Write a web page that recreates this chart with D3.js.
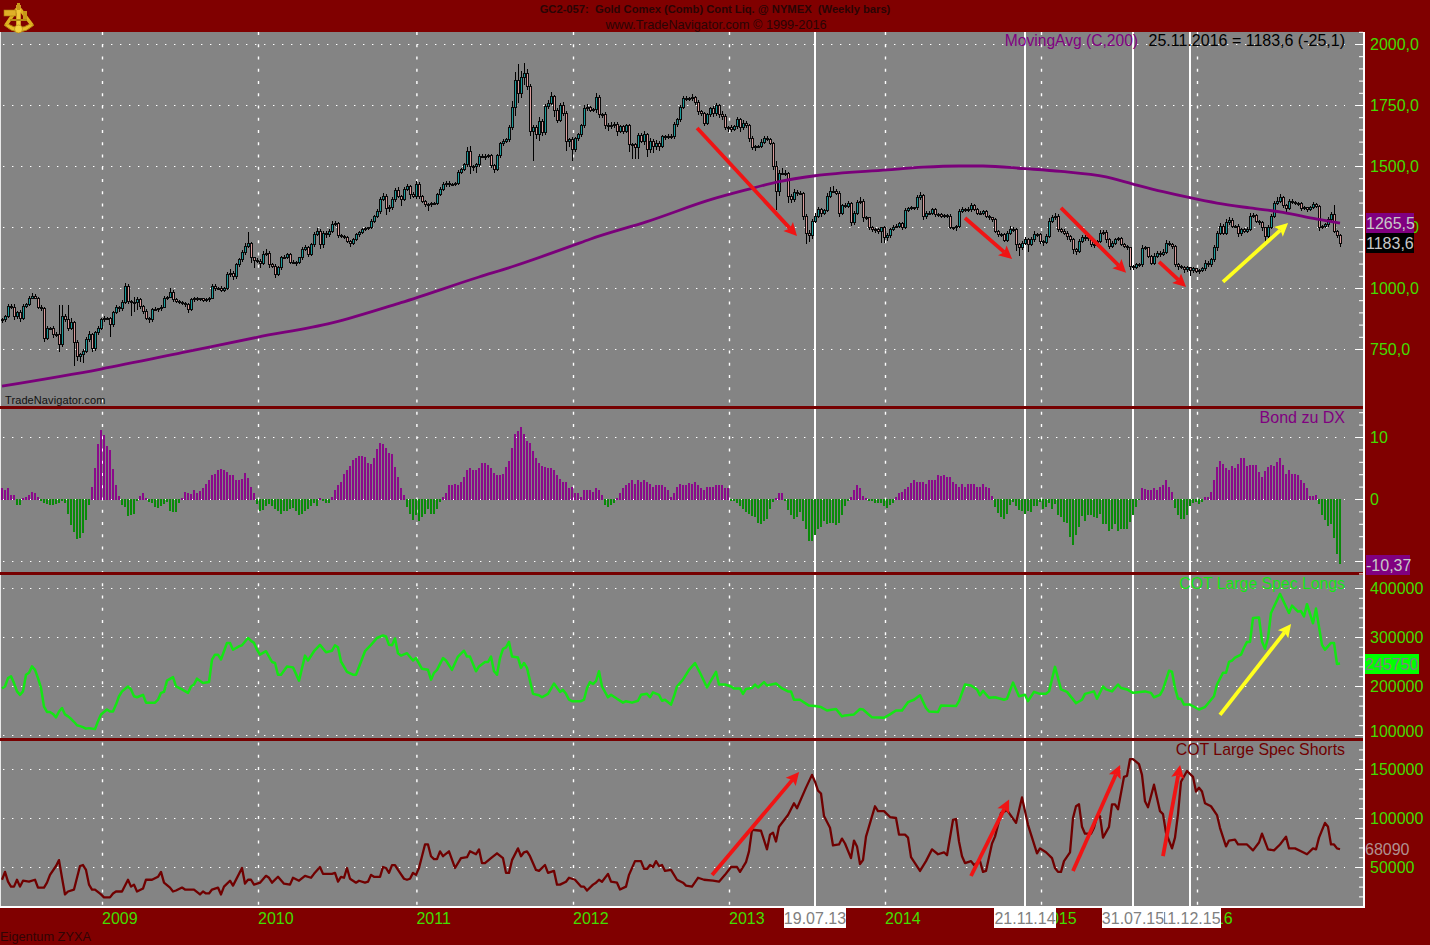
<!DOCTYPE html>
<html><head><meta charset="utf-8">
<style>html,body{margin:0;padding:0;background:#800000;overflow:hidden}text{font-family:"Liberation Sans",Arial,sans-serif}</style>
<script src="https://cdn.jsdelivr.net/npm/d3@7"></script></head><body><svg id="c" width="1430" height="945"></svg>
<script>
// ---------- DATA ----------
const closes=[870,884,925,922,885,898,873,925,932,959,
966,959,922,914,795,836,836,809,809,768,
884,870,836,857,775,720,727,740,788,809,
754,816,836,870,877,877,850,898,922,914,
941,1007,945,941,941,952,925,904,877,870,
911,911,914,922,959,963,982,952,945,941,
936,932,911,952,955,952,955,949,952,959,
1007,996,1000,990,1000,1055,1061,1048,1096,1116,
1146,1171,1182,1123,1113,1109,1102,1137,1143,1096,
1089,1055,1082,1123,1127,1137,1105,1105,1105,1123,
1157,1164,1137,1178,1219,1232,1178,1225,1219,1232,
1260,1264,1214,1212,1209,1191,1184,1198,1219,1228,
1239,1242,1246,1273,1295,1315,1363,1377,1325,1329,
1363,1398,1377,1362,1404,1415,1384,1377,1425,1377,
1355,1342,1342,1346,1348,1383,1403,1423,1430,1423,
1423,1430,1474,1485,1505,1560,1496,1496,1505,1537,
1540,1540,1542,1501,1485,1542,1591,1601,1608,1656,
1738,1851,1799,1861,1878,1824,1642,1656,1628,1683,
1638,1744,1758,1785,1728,1687,1747,1717,1601,1608,
1567,1611,1628,1665,1734,1738,1728,1731,1779,1710,
1710,1665,1660,1665,1669,1642,1660,1642,1665,1587,
1587,1574,1624,1601,1628,1567,1601,1578,1594,1581,
1619,1615,1622,1619,1669,1690,1738,1775,1775,1775,
1779,1761,1724,1717,1676,1710,1734,1714,1747,1710,
1704,1658,1658,1649,1660,1690,1656,1673,1665,1611,
1574,1581,1581,1597,1611,1608,1594,1499,1396,1471,
1471,1469,1376,1362,1392,1387,1389,1294,1225,1214,
1273,1294,1321,1307,1318,1376,1396,1396,1389,1307,
1337,1335,1348,1269,1307,1351,1355,1287,1287,1249,
1239,1239,1232,1246,1205,1214,1239,1250,1253,1264,
1246,1318,1324,1328,1328,1369,1378,1294,1307,1307,
1321,1301,1301,1294,1296,1294,1246,1246,1253,1314,
1321,1318,1321,1337,1321,1307,1307,1314,1294,1287,
1280,1232,1219,1219,1195,1225,1239,1239,1178,1164,
1184,1198,1178,1198,1219,1219,1191,1187,1212,1273,
1287,1294,1239,1232,1225,1212,1198,1157,1150,1191,
1209,1205,1201,1178,1174,1191,1225,1228,1198,1171,
1184,1198,1201,1178,1171,1164,1089,1085,1096,1096,
1160,1164,1130,1102,1130,1143,1137,1146,1184,1178,
1171,1096,1089,1086,1075,1082,1072,1078,1068,1072,
1078,1102,1096,1116,1164,1225,1253,1225,1267,1277,
1253,1253,1225,1239,1232,1239,1294,1296,1273,1267,
1246,1212,1250,1294,1348,1355,1369,1337,1324,1355,
1351,1346,1346,1324,1328,1321,1328,1342,1335,1249,
1253,1260,1280,1301,1232,1214,1183.6];
const wickUp=[8,6,10,8,12,6,10,8,6,10,
14,10,6,8,8,10,6,8,10,123,
46,10,62,20,8,10,6,10,12,14,
6,8,10,8,10,6,6,8,8,6,
10,12,8,6,22,10,8,6,8,6,
8,10,6,8,8,6,16,8,6,6,
6,8,6,6,10,8,6,6,6,6,
8,8,6,8,6,10,16,8,8,6,
10,12,46,8,6,8,8,14,18,8,
8,8,10,8,8,6,6,8,6,6,
10,12,8,6,10,14,8,8,10,10,
14,10,6,8,6,6,6,8,6,6,
6,8,6,10,6,8,12,14,8,10,
12,10,16,6,10,12,6,8,14,10,
6,6,8,6,6,8,10,12,8,10,
6,6,8,8,6,18,22,8,8,12,
10,8,6,6,6,6,8,8,8,12,
28,35,68,30,44,20,12,14,10,16,
8,12,14,18,6,10,10,14,10,6,
10,8,8,8,14,18,8,8,20,12,
8,12,10,14,10,12,8,8,8,6,
8,6,12,12,14,6,14,10,12,8,
10,8,8,8,10,8,10,12,10,8,
16,8,10,6,6,6,8,10,12,8,
14,10,6,10,8,12,8,14,10,8,
10,6,6,12,10,14,6,6,20,14,
22,14,6,10,14,8,8,6,8,14,
10,14,12,8,6,14,18,22,10,8,
8,10,10,6,10,8,20,8,8,6,
6,6,8,6,8,10,6,8,8,8,
6,10,6,8,6,14,16,8,8,10,
8,8,6,8,6,6,8,6,6,8,
10,8,12,12,8,8,10,6,6,6,
6,6,6,6,6,8,14,10,8,6,
8,10,8,10,14,8,6,6,8,12,
14,12,10,6,8,8,6,6,6,8,
8,8,8,14,6,6,14,8,8,6,
10,8,8,6,6,6,6,6,6,6,
16,10,6,6,14,8,8,12,14,8,
8,6,6,6,6,8,6,8,6,6,
8,14,8,8,12,8,14,8,16,12,
10,6,8,6,6,10,14,12,8,6,
6,6,8,8,10,16,18,8,8,10,
8,6,8,6,8,6,8,10,6,4,
6,6,10,10,41,6,6];
const wickDn=[14,8,6,8,16,12,14,6,8,6,
6,6,10,8,18,8,6,14,10,32,
10,8,12,8,96,20,25,34,8,8,
16,14,8,10,8,6,51,8,6,12,
8,6,12,57,40,30,12,10,8,14,
8,6,8,8,6,8,6,10,8,8,
6,8,14,6,8,6,6,8,6,8,
6,8,6,8,6,8,8,14,10,8,
8,10,8,20,30,8,18,8,6,16,
8,12,6,8,6,8,8,6,14,6,
8,6,8,6,8,6,18,14,16,8,
8,6,10,8,8,6,16,8,6,8,
6,6,6,6,8,8,10,8,24,14,
8,10,10,24,6,8,18,8,12,14,
8,10,26,8,6,8,6,6,8,8,
6,6,6,8,6,8,28,18,26,8,
6,14,8,8,12,6,8,8,6,10,
10,32,40,20,30,14,20,120,16,26,
14,10,10,8,26,10,8,14,40,22,
45,8,8,8,10,8,8,6,14,12,
12,12,16,8,8,18,8,12,6,30,
58,45,45,8,14,30,14,24,14,18,
8,10,6,8,8,8,8,6,8,10,
8,12,14,12,14,8,8,14,8,12,
14,12,20,8,6,10,18,8,8,12,
10,14,8,6,6,6,8,16,75,18,
8,8,26,14,8,8,6,14,45,25,
12,8,8,14,8,8,8,8,8,14,
6,8,8,14,12,8,8,18,10,10,
8,14,10,47,20,14,8,6,6,8,
10,6,6,6,10,8,8,14,10,8,
8,10,8,6,8,8,6,8,14,6,
6,8,6,8,6,8,8,6,6,8,
10,8,10,8,8,6,6,8,26,34,
8,8,30,6,8,8,10,14,8,6,
6,8,8,8,6,14,8,16,14,6,
6,14,8,10,12,6,6,8,14,12,
6,8,6,6,8,8,14,10,6,8,
8,6,8,8,8,6,10,6,8,6,
10,10,14,10,14,10,22,12,8,10,
8,8,8,10,8,14,8,8,6,8,
8,8,14,10,8,8,6,8,8,10,
14,26,8,8,8,8,8,10,12,6,
6,6,8,8,6,8,6,6,8,14,
8,6,8,8,8,8,14];
const maWeek=[0,33,60,85,110,133,159,170,190,196,215,237,248,259,271,295,307,319,327,341,353,368,377,387,396,405,416,427,438,446];
const maValue=[598,668,735,798,857,940,1045,1087,1173,1200,1272,1365,1402,1436,1460,1484,1495,1500,1500,1489,1478,1455,1426,1395,1370,1348,1328,1310,1283,1265.5];
const bond=[1.8,1.5,1.7,.7,.7,-.9,-.9,.1,.3,.7,
1.1,.9,.4,-.3,-.6,-.75,-.85,-.85,-.75,-.5,
-.3,-.6,-2.4,-4.1,-5.2,-6.3,-6.2,-5.4,-3.3,-.9,
1.9,5,8.8,11.2,10.4,8.6,7.9,4.9,2.2,.5,
-.9,-1.2,-2.7,-2.5,-2.4,-.3,.5,.9,.2,-.4,
-.6,-1.2,-1.3,-1.1,-.75,-.4,-1.8,-2,-2,-.6,
.2,1.2,.9,.75,1.5,.9,1.3,1.8,2.5,3,
3.9,4.1,4.6,4.9,4.6,4.4,3.9,3.8,3.1,3.1,
3.2,4.2,3.4,1.9,1,-.75,-1.8,-1.7,-1.1,-.75,
-1.1,-1.5,-1.8,-2.4,-1.8,-1.8,-1.6,-1.3,-1.8,-2.5,
-2.4,-1.8,-1.6,-1.1,-.5,-1,.1,-.3,-.5,-.5,
.3,1.4,2.3,2.8,4.1,4.6,5.4,6.3,6.6,7,
6.9,6.8,5.8,5.7,6.6,8,9,8.8,8.2,7.5,
7.2,5.2,3.5,1.8,.7,-1.2,-2.4,-3.3,-2.5,-3.4,
-2.9,-2.4,-1.5,-2.3,-2.4,-1.6,-.4,.3,1,2.3,
2.3,2.5,2.3,2.8,3.6,4.7,5,4.7,4.6,5,
5.8,5.8,5.5,5,4.2,3.8,3.8,4.1,5.1,6.2,
8.2,10.5,11,11.6,10.5,9.4,9,7.8,6.6,5.8,
5.4,5.1,5,5,4.6,3.8,3.2,2.7,2.7,1.8,
1.9,.9,.9,.4,1.4,1.5,1.5,1.1,1.8,1.5,
.7,-.9,-1.2,-.9,-.5,.1,.9,1.8,2.3,2.6,
3,2.5,3.1,2.8,3.1,2.7,2.5,2,2.2,2.2,
2.2,2,1.5,.3,.9,2,2.5,2.2,2.2,2.6,
2.5,2.8,2.3,1.8,1.4,1.9,2,2,2.3,2.3,
2.2,1.8,1.7,-.2,-.2,-.5,-1.1,-1.5,-2,-2.4,
-2.7,-2.9,-3.8,-4,-3.4,-3.1,-1.5,-.4,.2,.9,
1,-.3,-1.7,-2.5,-3.2,-2.9,-2,-3.4,-4.8,-6.7,
-6.7,-5.8,-4.8,-4.4,-3.4,-4,-3.8,-3.8,-4.1,-3.8,
-2.5,-1.1,-.2,.3,1.4,2.3,1.8,.5,.2,-.2,
-.2,-.6,-.6,-.5,-1.1,-1.4,-.9,-.5,.4,.9,
1.2,1.6,1.9,2.6,3.1,2.8,2.8,2.8,2.4,3.1,
3,3.1,3.8,3.7,3.8,3.5,3.5,2.8,2.5,1.9,
2.5,1.9,2.4,2.5,2.4,1.9,2,2.4,2,1.7,
.5,-1.2,-2.2,-2.8,-3.1,-2.4,-.9,-.4,-1.1,-1.7,
-1.9,-2.3,-1.8,-2,-1,-1,-.4,-1.5,-1.2,-.6,
-1.5,-.75,-2.5,-2.9,-3.6,-3.8,-6,-7.4,-5.8,-4.4,
-2.7,-3.4,-2.5,-2.5,-2.8,-3,-2.3,-3.9,-4,-5.1,
-4.8,-4,-5,-4.8,-4.8,-4.7,-3.6,-2.5,-1.2,-.1,
1.8,1.6,1.4,1.5,1.8,1.4,2,2.3,3.1,2,
1.1,-1.3,-2.5,-3.1,-3.2,-2.5,-1.1,-.6,-.4,-.75,
-.4,.3,.4,1.2,3.1,5.2,6.2,5.7,5,4.7,
5.4,5,5.7,6.6,6.6,5.4,5.5,5.5,5.5,4.4,
3.5,4.5,5.1,5.5,5.4,6,6.6,5.5,4.1,4.7,
4.1,4.1,3.9,3.1,2.6,1.7,.5,.5,.7,-.75,
-2.5,-3.3,-4.2,-4,-6.2,-8.8,-10.37];
const longsWeek=[0,1,2,3,4,5,6,7,8,9,10,11,12,13,14,15,16,17,18,19,20,21,22,23,24,25,26,27,28,29,31,32,33,35,36,37,38,39,40,42,43,44,45,47,48,51,52,53,54,55,57,58,60,62,63,64,65,67,69,70,71,72,73,75,76,77,79,80,82,83,84,85,86,88,90,91,92,93,95,97,99,101,102,104,106,108,110,111,112,113,115,117,118,121,123,125,127,128,129,130,131,132,133,135,137,138,140,142,143,144,145,147,148,150,152,154,155,156,158,159,161,162,163,164,165,166,167,168,169,170,172,173,174,175,177,179,180,182,184,186,187,188,189,190,193,194,195,196,197,198,199,200,202,203,205,207,208,210,212,213,215,216,217,219,220,221,223,224,225,227,229,231,233,235,238,239,241,243,244,246,247,248,250,251,252,254,255,258,260,262,263,264,266,269,271,273,275,278,280,281,284,286,287,290,294,296,298,300,302,304,306,308,309,312,313,318,319,321,323,325,326,327,329,331,334,335,337,339,341,342,344,346,348,349,351,353,355,358,360,361,364,365,367,368,370,372,373,375,377,381,383,384,386,387,389,390,391,392,393,394,396,399,401,404,405,407,408,409,410,411,413,414,415,416,417,419,420,421,422,423,426,429,430,432,433,434,435,437,438,440,441,443,444,445,446];
const longsValue=[195,199,216,220,206,189,182,189,223,227,240,233,216,196,158,147,147,143,136,148,155,142,138,133,127,120,118,116,113,114,112,128,142,152,148,148,162,179,189,199,193,179,177,182,166,166,172,186,188,211,218,199,193,186,199,203,215,206,208,254,264,264,254,288,288,274,281,283,298,292,288,274,264,271,249,247,223,223,240,238,211,262,252,271,284,269,272,283,279,250,229,223,223,271,284,298,303,301,284,283,297,267,262,267,252,257,235,233,213,227,233,257,252,233,260,272,260,260,230,240,249,249,260,230,223,257,276,279,290,260,258,237,247,237,184,181,177,184,205,188,192,184,172,169,169,172,196,208,204,210,230,199,177,182,174,166,169,166,170,182,184,177,187,182,170,172,162,179,199,213,233,247,223,197,229,203,203,199,195,195,184,194,196,203,197,208,201,205,195,189,189,172,172,160,159,157,150,153,138,140,142,153,152,136,135,142,150,150,167,172,181,155,148,147,160,159,169,203,201,193,181,190,176,177,172,174,207,179,182,169,188,184,184,189,239,193,188,165,172,184,189,174,199,193,189,203,196,193,186,189,186,177,182,193,231,229,196,174,174,162,162,152,157,179,203,227,227,249,252,258,264,278,290,290,339,340,291,276,298,349,388,349,364,352,353,342,367,328,358,284,274,288,288,245,245.75].map(k=>k*1000);
const shortsWeek=[0,1,2,3,4,5,6,7,9,11,12,14,15,16,18,19,20,21,22,24,26,27,28,29,30,31,33,34,36,37,38,40,42,43,44,45,47,48,50,52,53,54,56,57,58,60,61,64,66,67,68,69,70,72,73,74,76,77,80,81,82,83,84,86,88,89,90,92,94,96,97,99,101,103,104,106,107,110,111,112,113,114,115,116,118,119,121,122,123,124,126,127,128,129,130,131,132,134,135,136,137,138,139,140,141,142,143,144,145,146,147,149,151,153,155,156,158,159,160,161,163,165,167,168,169,170,172,173,174,175,176,178,179,181,182,184,185,186,188,189,191,193,194,195,197,198,199,200,202,203,205,206,208,209,211,213,214,215,216,217,218,219,220,221,223,225,227,228,230,232,234,237,239,241,243,245,246,248,249,250,253,255,256,257,258,259,262,264,265,268,270,271,272,273,274,276,277,279,280,281,283,284,285,286,287,288,291,292,294,296,298,299,301,302,303,306,308,310,312,314,315,317,318,319,320,321,323,324,326,327,328,330,331,333,335,338,339,340,342,345,346,348,350,351,352,353,354,356,357,358,359,360,361,363,364,365,366,367,369,370,371,372,374,375,376,377,379,380,381,382,384,386,387,388,390,391,392,393,395,397,398,399,400,401,403,405,406,408,409,411,412,415,417,419,420,422,424,426,428,429,431,433,435,437,438,439,441,442,443,444,445,446];
const shortsValue=[37,45,35,30,30,37,30,36,35,37,29,29,34,42,51,57,39,22,25,27,51,52,47,32,27,27,22,19,19,23,25,25,37,30,32,25,28,37,37,40,45,34,29,25,26,29,27,27,22,25,23,23,27,29,22,30,36,31,49,33,37,37,32,34,41,39,34,40,33,32,39,36,41,39,43,50,43,43,44,35,40,39,49,38,34,36,34,35,42,40,40,50,49,44,52,52,47,38,37,38,44,42,49,61,73,73,61,58,58,66,61,66,49,59,60,66,63,68,54,54,59,64,59,44,44,57,69,61,65,66,61,47,46,52,44,46,32,32,35,39,37,30,30,26,32,34,37,35,43,35,34,27,30,42,56,56,48,48,52,50,56,51,52,46,47,37,34,31,30,39,37,36,35,42,50,50,45,55,66,88,87,68,83,85,76,91,103,115,110,131,144,137,128,125,102,90,72,73,79,74,59,77,71,53,57,81,112,107,107,101,100,83,83,80,60,46,56,68,63,65,62,98,99,76,61,54,56,52,56,45,46,74,81,105,108,95,108,121,93,64,69,65,59,49,45,45,56,65,100,112,114,91,84,84,90,102,102,80,91,114,114,109,142,143,160,160,155,144,117,111,134,107,104,85,69,80,104,137,148,142,127,131,127,115,112,103,90,71,77,78,73,73,67,75,84,68,67,73,81,69,69,66,63,69,68,80,95,91,73,73,69,68.09].map(k=>k*1000);
const yearWeek=[33.5,85.5,138.3,190.5,242.5,294.5,346.5,398.5];
const yearLabel=["2009","2010","2011","2012","2013","2014","2015","2016"];
const eventWeek=[271,341,377,396];
const eventLabel=["19.07.13","21.11.14","11.12.15","31.07.15"];
const eventLabelWeek=[271,341,396,377];
const priceTicks=[2000,1750,1500,1250,1000,750];
const bondTicks=[10,0,-10];
const longTicks=[400000,300000,200000,100000];
const shortTicks=[150000,100000,50000];
const mainArrows=[[231.7,1656,265,1213,"#f01414"],[321,1287,336.7,1119,"#f01414"],[353,1328,374.7,1062,"#f01414"],[385.7,1107,394.7,1004,"#f01414"],[407,1025,428.7,1266,"#ffff1e"]];
const longArrows=[[406,141000,429.7,326500,"#ffff1e"]];
const shortArrows=[[236.7,41800,265.7,147000,"#f01414"],[323,40800,335.7,119000,"#f01414"],[357,46000,372.7,154000,"#f01414"],[387,61000,392.7,154000,"#f01414"]];

// ---------- LAYOUT ----------
const svg=d3.select("#c");
const lime="#44dd00",plotR=1363,dataR=1345;
const x=d3.scaleLinear().domain([0,446]).range([2,1340]);
const yP=d3.scaleLinear().domain([2000,750]).range([44,349]);
const yB=d3.scaleLinear().domain([10,-10]).range([437,561]);
const yL=d3.scaleLinear().domain([400000,100000]).range([588,735]);
const yS=d3.scaleLinear().domain([150000,50000]).range([769,867]);
const fmt1=d3.formatLocale({decimal:",",thousands:"",grouping:[3],currency:["",""]}).format(".1f");

svg.append("rect").attr("width",1430).attr("height",945).attr("fill","#800000");
svg.append("rect").attr("x",0).attr("y",32).attr("width",plotR).attr("height",874).attr("fill","#848484");
svg.append("rect").attr("x",0).attr("y",32).attr("width",1).attr("height",875).attr("fill","#e8e8e8");

// grid
const grid=svg.append("g").attr("stroke","#fff").attr("fill","none");
[[yP,priceTicks],[yB,bondTicks],[yL,longTicks],[yS,shortTicks]].forEach(([s,t])=>{
  grid.selectAll(null).data(t).join("line").attr("x1",3).attr("x2",dataR)
    .attr("y1",d=>Math.round(s(d))+.5).attr("y2",d=>Math.round(s(d))+.5)
    .attr("stroke-width",1.2).attr("stroke-dasharray","1.4 7.6");
});
grid.selectAll(null).data(yearWeek).join("line")
  .attr("x1",d=>x(d)).attr("x2",d=>x(d)).attr("y1",32).attr("y2",906)
  .attr("stroke-width",1.4).attr("stroke-dasharray","3 9.25");
// event lines
svg.append("g").selectAll("rect").data(eventWeek).join("rect")
  .attr("x",d=>Math.round(x(d))-1).attr("y",32).attr("width",2).attr("height",874).attr("fill","#fff");

// candles
const idx=d3.range(closes.length);
const opens=idx.map(i=>i?closes[i-1]:closes[0]);
const cg=svg.append("g");
cg.append("g").attr("stroke","#000").attr("stroke-width",1).attr("shape-rendering","crispEdges")
  .selectAll("line").data(idx).join("line")
  .attr("x1",i=>x(i)+.5).attr("x2",i=>x(i)+.5)
  .attr("y1",i=>yP(Math.max(opens[i],closes[i])+wickUp[i]))
  .attr("y2",i=>yP(Math.min(opens[i],closes[i])-wickDn[i]));
cg.append("g").attr("stroke","#0a0a0a").attr("stroke-width",1).attr("shape-rendering","crispEdges")
  .selectAll("rect").data(idx).join("rect")
  .attr("x",i=>x(i)-.5).attr("width",2)
  .attr("y",i=>yP(Math.max(opens[i],closes[i])))
  .attr("height",i=>Math.max(1,Math.abs(yP(opens[i])-yP(closes[i]))))
  .attr("fill",i=>closes[i]>=opens[i]?"#1a9a9a":"#d89a9a");

// MA
const pathOf=(wk,val,s,curve)=>d3.line().curve(curve||d3.curveLinear).x((d,i)=>x(wk[i])).y(d=>s(d))(val);
svg.append("path").attr("d",pathOf(maWeek,maValue,yP,d3.curveMonotoneX)).attr("fill","none").attr("stroke","#7a007a").attr("stroke-width",2.8);

// bond bars
svg.append("g").attr("shape-rendering","crispEdges").selectAll("rect").data(bond).join("rect")
  .attr("x",(d,i)=>Math.round(x(i))-1).attr("width",2)
  .attr("y",d=>d>=0?yB(d):yB(0)-.5)
  .attr("height",d=>Math.abs(yB(d)-yB(0))+1)
  .attr("fill",d=>d>=0?"#8a0a8a":"#0a8a0a");

// COT lines
svg.append("path").attr("d",pathOf(longsWeek,longsValue,yL)).attr("fill","none").attr("stroke","#14e614").attr("stroke-width",2.5).attr("stroke-linejoin","round");
svg.append("path").attr("d",pathOf(shortsWeek,shortsValue,yS)).attr("fill","none").attr("stroke","#700000").attr("stroke-width",2.3).attr("stroke-linejoin","round");

// arrows
function arrows(list,s){
  const g=svg.append("g");
  list.forEach(([i0,v0,i1,v1,col])=>{
    const a=[x(i0),s(v0)],b=[x(i1),s(v1)],t=Math.atan2(b[1]-a[1],b[0]-a[0]),L=13,W=6.5;
    const base=[b[0]-L*.8*Math.cos(t),b[1]-L*.8*Math.sin(t)];
    g.append("line").attr("x1",a[0]).attr("y1",a[1]).attr("x2",base[0]).attr("y2",base[1]).attr("stroke",col).attr("stroke-width",3.8);
    const bx=b[0]-L*Math.cos(t),by=b[1]-L*Math.sin(t);
    g.append("polygon").attr("fill",col).attr("points",[b,[bx-W*Math.sin(t),by+W*Math.cos(t)],base,[bx+W*Math.sin(t),by-W*Math.cos(t)]].join(" "));
  });
}
arrows(mainArrows,yP);arrows(longArrows,yL);arrows(shortArrows,yS);

// separators and frame
[[406,3],[572,3],[738,3]].forEach(([y,h])=>svg.append("rect").attr("x",0).attr("y",y).attr("width",plotR+2).attr("height",h).attr("fill","#760000"));
svg.append("rect").attr("x",plotR).attr("y",32).attr("width",2).attr("height",875).attr("fill","#fff");
svg.append("rect").attr("x",0).attr("y",906).attr("width",plotR+2).attr("height",2).attr("fill","#fff");

// right axes
function rightAxis(s,major,minorStep,lo,hi,fmt){
  const minor=d3.range(lo,hi+minorStep/2,minorStep).filter(v=>!major.includes(v));
  const a=svg.append("g").attr("transform",`translate(${plotR},0)`)
    .call(d3.axisRight(s).tickValues(major).tickSizeInner(-8).tickSizeOuter(0).tickPadding(7).tickFormat(fmt));
  a.select(".domain").remove();
  a.selectAll("line").attr("stroke","#fff");
  a.selectAll("text").attr("fill",lime).attr("font-size",16).attr("font-family","Liberation Sans");
  const m=svg.append("g").attr("transform",`translate(${plotR},0)`)
    .call(d3.axisRight(s).tickValues(minor).tickSizeInner(-4).tickSizeOuter(0).tickFormat(""));
  m.select(".domain").remove();m.selectAll("line").attr("stroke","#fff");
  return a;
}
rightAxis(yP,priceTicks,50,800,2050,d=>fmt1(d));
rightAxis(yB,bondTicks,2,-12,14,d=>d);
const la=rightAxis(yL,longTicks,20000,100000,400000,d=>d);
la.selectAll("text").filter(d=>d===100000).attr("y",-4);
rightAxis(yS,shortTicks,10000,20000,170000,d=>d);

// bottom axis
const xa=svg.append("g").attr("transform","translate(0,908)")
  .call(d3.axisBottom(x).tickValues(yearWeek).tickSize(0).tickPadding(5).tickFormat((d,i)=>yearLabel[i]));
xa.select(".domain").remove();
xa.selectAll("text").attr("fill",lime).attr("font-size",16).attr("font-family","Liberation Sans").attr("text-anchor","start").attr("dx",-1);

// date flags
const fl=svg.append("g");
eventLabel.forEach((t,i)=>{
  const c=Math.round(x(eventLabelWeek[i]));
  fl.append("rect").attr("x",c-31).attr("y",908).attr("width",62).attr("height",20).attr("fill","#fff");
  fl.append("text").attr("x",c).attr("y",924).attr("text-anchor","middle").attr("font-size",16).attr("fill","#808080").text(t);
});

// value boxes
function box(xx,y,w,h,fill,t,col){
  if(fill)svg.append("rect").attr("x",xx).attr("y",y).attr("width",w).attr("height",h).attr("fill",fill);
  svg.append("text").attr("x",xx).attr("y",y+h/2+5.5).attr("font-size",16).attr("fill",col).text(t);
}
box(1366,213,48,20,"#800080","1265,5","#c8c8c8");
box(1366,233,48,20,"#000000","1183,6","#c8c8c8");
box(1366,555,44,20,"#800080","-10,37","#c8c8c8");
box(1365,654,54,20,"#00ff00","245750","#808080");
box(1365,839,50,20,null,"68090","#b09090");

// panel titles
const tr=(y,t,c)=>svg.append("text").attr("x",1345).attr("y",y).attr("text-anchor","end").attr("font-size",16).attr("fill",c).text(t);
tr(46,"25.11.2016 = 1183,6 (-25,1)","#000");
svg.append("text").attr("x",1138).attr("y",46).attr("text-anchor","end").attr("font-size",15.6).attr("fill","#800080").text("MovingAvg (C,200)");
tr(423,"Bond zu DX","#800080");
svg.append("text").attr("x",1345).attr("y",589).attr("text-anchor","end").attr("font-size",15.8).attr("fill","#14e614").text("COT Large Spec Longs");
svg.append("text").attr("x",1345).attr("y",755).attr("text-anchor","end").attr("font-size",15.9).attr("fill","#700000").text("COT Large Spec Shorts");

// header / footer
svg.append("text").attr("x",715).attr("y",13).attr("text-anchor","middle").attr("font-size",11.2).attr("font-weight","bold").attr("fill","#2a0505").style("white-space","pre").text("GC2-057:  Gold Comex (Comb) Cont Liq. @ NYMEX  (Weekly bars)");
svg.append("text").attr("x",716).attr("y",29).attr("text-anchor","middle").attr("font-size",12.7).attr("fill","#2a0505").text("www.TradeNavigator.com © 1999-2016");
svg.append("text").attr("x",5).attr("y",404).attr("font-size",11).attr("letter-spacing",.1).attr("fill","#111").text("TradeNavigator.com");
svg.append("text").attr("x",0).attr("y",941).attr("font-size",12.8).attr("fill","#300505").text("Eigentum ZYXA");

// sextant logo
const lg=svg.append("g");
lg.append("path").attr("d","M4 25 Q19 39 34 25 L30 24 Q19 31 8 24 Z").attr("fill","#e8bc28").attr("stroke","#b08010").attr("stroke-width",1);
lg.append("path").attr("d","M6 25 L17 9 M32 25 L20 9").attr("stroke","#dcae20").attr("stroke-width",3.5).attr("fill","none");
lg.append("path").attr("d","M18.5 5 V30").attr("stroke","#f0c838").attr("stroke-width",4.5);
lg.append("path").attr("d","M18.5 3 V10").attr("stroke","#c89818").attr("stroke-width",3);
lg.append("rect").attr("x",4).attr("y",10).attr("width",12).attr("height",6).attr("fill","#e0b028").attr("stroke","#a87808").attr("stroke-width",.6);
lg.append("rect").attr("x",23).attr("y",11).attr("width",4).attr("height",8).attr("fill","#c89818");
lg.append("path").attr("d","M10 20 h17").attr("stroke","#b88a14").attr("stroke-width",2);
lg.append("circle").attr("cx",18.5).attr("cy",29).attr("r",4).attr("fill","#f4d040").attr("stroke","#b08010").attr("stroke-width",.6);
</script></body></html>
